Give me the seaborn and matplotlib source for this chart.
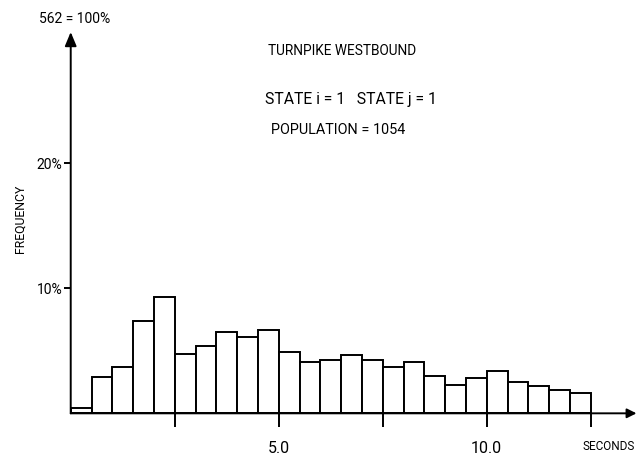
import numpy as np
import pandas as pd
import matplotlib
matplotlib.use("Agg")
import matplotlib.pyplot as plt
import seaborn as sns

# Headway histogram, 0.5 s bins, frequency as percent of population
bin_width = 0.5
bin_left = np.arange(0.0, 12.5, bin_width)
freq_pct = [0.4, 2.9, 3.7, 7.4, 9.3, 4.75, 5.4, 6.5, 6.1, 6.7,
            4.9, 4.1, 4.25, 4.65, 4.25, 3.7, 4.1, 3.0, 2.3, 2.8,
            3.35, 2.5, 2.15, 1.9, 1.65]
x_ticks = [2.5, 5.0, 7.5, 10.0, 12.5]
x_tick_labels = ["", "5.0", "", "10.0", ""]
y_ticks = [10, 20]
y_tick_labels = ["10%", "20%"]
title = "TURNPIKE WESTBOUND"
state_line = "STATE i = 1   STATE j = 1"
population_line = "POPULATION = 1054"
scale_label = "562 = 100%"

sns.set_theme(style="white")
plt.rcParams["font.family"] = ["Roboto", "DejaVu Sans"]
plt.rcParams["text.color"] = "black"
plt.rcParams["xtick.color"] = "black"
plt.rcParams["ytick.color"] = "black"

df = pd.DataFrame({"t": bin_left + bin_width / 2, "pct": freq_pct})

fig = plt.figure(figsize=(6.4, 4.55), dpi=100)
ax = fig.add_axes([0.1105, 0.0916, 0.884, 0.838])

sns.histplot(data=df, x="t", weights="pct",
             binwidth=bin_width, binrange=(0.0, 12.5),
             color="white", edgecolor="black", linewidth=1.4, alpha=1.0, ax=ax)

ax.set_xlim(0, 13.6)
ax.set_ylim(0, 30.5)
for s in ax.spines.values():
    s.set_visible(False)

# axes drawn as arrows
ax.annotate("", xy=(13.6, 0), xytext=(0, 0), xycoords="data",
            arrowprops=dict(arrowstyle="-|>", color="black", lw=1.4,
                            mutation_scale=14, shrinkA=0, shrinkB=0),
            annotation_clip=False)
ax.annotate("", xy=(0, 30.5), xytext=(0, 0), xycoords="data",
            arrowprops=dict(arrowstyle="-|>,head_width=0.25,head_length=0.6",
                            color="black", lw=1.4,
                            mutation_scale=14, shrinkA=0, shrinkB=0),
            annotation_clip=False)

ax.set_xticks(x_ticks)
ax.set_xticklabels(x_tick_labels, fontsize=11.5)
ax.set_yticks(y_ticks)
ax.set_yticklabels(y_tick_labels, fontsize=10)
ax.tick_params(axis="x", direction="out", length=10, width=1.4, pad=10,
               bottom=True)
ax.tick_params(axis="y", direction="out", length=5, width=1.4, pad=1,
               left=True)
ax.set_xlabel("")
ax.set_ylabel("")

fig.text(0.031, 0.519, "FREQUENCY", rotation=90, fontsize=8.8,
         ha="center", va="center")
fig.text(0.117, 0.958, scale_label, fontsize=10, ha="center", va="center")
fig.text(0.534, 0.888, title, fontsize=9.8, ha="center", va="center")
fig.text(0.548, 0.782, state_line, fontsize=11.3, ha="center", va="center")
fig.text(0.528, 0.714, population_line, fontsize=10.4, ha="center", va="center")
fig.text(0.951, 0.018, "SECONDS", fontsize=8.5, ha="center", va="center")

fig.savefig("out.png", dpi=100)
